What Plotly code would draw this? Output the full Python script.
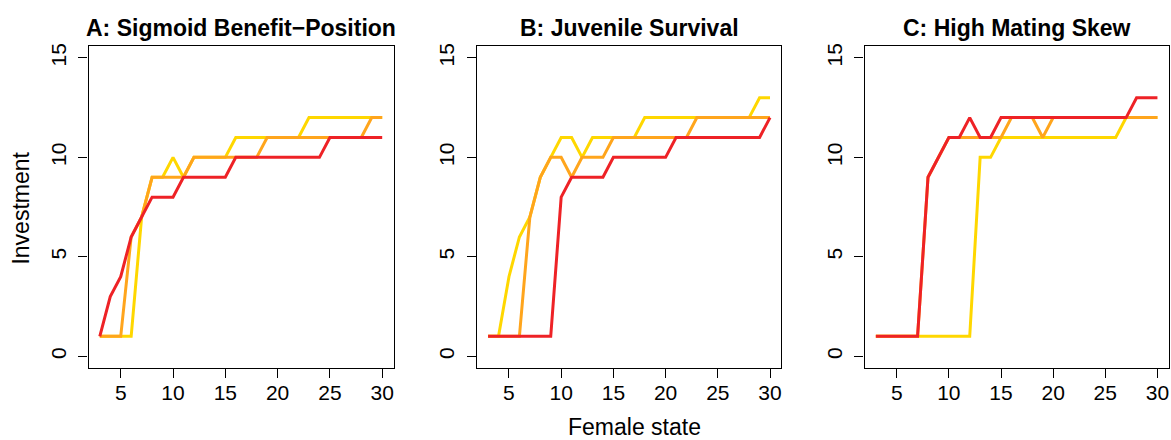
import plotly.graph_objects as go

state = list(range(3, 31))

titles = ["A: Sigmoid Benefit\u2212Position", "B: Juvenile Survival", "C: High Mating Skew"]

# Panel A
a_yellow = [1, 1, 1, 1, 7, 9, 9, 10, 9, 10, 10, 10, 10, 11, 11, 11, 11, 11, 11, 11, 12, 12, 12, 12, 12, 12, 12, 12]
a_orange = [1, 1, 1, 6, 7, 9, 9, 9, 9, 10, 10, 10, 10, 10, 10, 10, 11, 11, 11, 11, 11, 11, 11, 11, 11, 11, 12, 12]
a_red    = [1, 3, 4, 6, 7, 8, 8, 8, 9, 9, 9, 9, 9, 10, 10, 10, 10, 10, 10, 10, 10, 10, 11, 11, 11, 11, 11, 11]
# Panel B
b_yellow = [1, 1, 4, 6, 7, 9, 10, 11, 11, 10, 11, 11, 11, 11, 11, 12, 12, 12, 12, 12, 12, 12, 12, 12, 12, 12, 13, 13]
b_orange = [1, 1, 1, 1, 7, 9, 10, 10, 9, 10, 10, 10, 11, 11, 11, 11, 11, 11, 11, 11, 12, 12, 12, 12, 12, 12, 12, 12]
b_red    = [1, 1, 1, 1, 1, 1, 1, 8, 9, 9, 9, 9, 10, 10, 10, 10, 10, 10, 11, 11, 11, 11, 11, 11, 11, 11, 11, 12]
# Panel C
c_yellow = [1, 1, 1, 1, 1, 1, 1, 1, 1, 1, 10, 10, 11, 11, 11, 11, 11, 11, 11, 11, 11, 11, 11, 11, 12, 12, 12, 12]
c_orange = [1, 1, 1, 1, 1, 9, 10, 11, 11, 11, 11, 11, 11, 12, 12, 12, 11, 12, 12, 12, 12, 12, 12, 12, 12, 12, 12, 12]
c_red    = [1, 1, 1, 1, 1, 9, 10, 11, 11, 12, 11, 11, 12, 12, 12, 12, 12, 12, 12, 12, 12, 12, 12, 12, 12, 13, 13, 13]

panels = [
    (a_yellow, a_orange, a_red),
    (b_yellow, b_orange, b_red),
    (c_yellow, c_orange, c_red),
]
colors = ["#FFD700", "#FFA51C", "#EE2226"]

x_ticks = [5, 10, 15, 20, 25, 30]
y_ticks = [0, 5, 10, 15]

W, H = 1171, 440
x_domains_px = [(88.5, 393.5), (476.8, 781.3), (864.6, 1168.7)]
y_top_px, y_bot_px = 43.3, 367.7
y_domain = [1 - y_bot_px / H, 1 - y_top_px / H]

FONT = "Liberation Sans, Arial, Helvetica, sans-serif"

fig = go.Figure()
for i, series in enumerate(panels):
    xa = "x" if i == 0 else f"x{i+1}"
    ya = "y" if i == 0 else f"y{i+1}"
    for vals, col in zip(series, colors):
        fig.add_trace(go.Scatter(x=state, y=vals, mode="lines",
                                 line=dict(color=col, width=3),
                                 xaxis=xa, yaxis=ya, showlegend=False,
                                 hoverinfo="skip"))
    d0, d1 = x_domains_px[i]
    axis_common = dict(showgrid=False, zeroline=False, showline=True,
                       linecolor="black", linewidth=1.3, mirror=True,
                       ticks="outside", ticklen=9, tickwidth=1.3,
                       tickcolor="black",
                       tickfont=dict(family=FONT, size=21, color="black"))
    xkey = "xaxis" if i == 0 else f"xaxis{i+1}"
    ykey = "yaxis" if i == 0 else f"yaxis{i+1}"
    fig.update_layout(**{
        xkey: dict(domain=[d0 / W, d1 / W], range=[1.92, 31.08],
                   tickvals=x_ticks, anchor=ya, ticklabelstandoff=-4,
                   **axis_common),
        ykey: dict(domain=y_domain, range=[-0.6, 15.6], tickvals=y_ticks,
                   tickangle=-90, anchor=xa, ticklabelstandoff=4,
                   **axis_common),
    })
    fig.add_annotation(text=f"<b>{titles[i]}</b>", xref="paper", yref="paper",
                       x=(d0 + d1) / 2 / W, y=1 - 25 / H, xanchor="center",
                       yanchor="middle", showarrow=False,
                       font=dict(family=FONT, size=23, color="black"))

fig.add_annotation(text="Female state", xref="paper", yref="paper",
                   x=634 / W, y=1 - 427 / H, xanchor="center", yanchor="middle",
                   showarrow=False, font=dict(family=FONT, size=23, color="black"))
fig.add_annotation(text="Investment", xref="paper", yref="paper",
                   x=21 / W, y=1 - 207 / H, xanchor="center", yanchor="middle",
                   textangle=-90, showarrow=False,
                   font=dict(family=FONT, size=23, color="black"))

fig.update_layout(width=W, height=H, margin=dict(l=0, r=0, t=0, b=0),
                  paper_bgcolor="white", plot_bgcolor="white")

fig.write_html("out.html")
